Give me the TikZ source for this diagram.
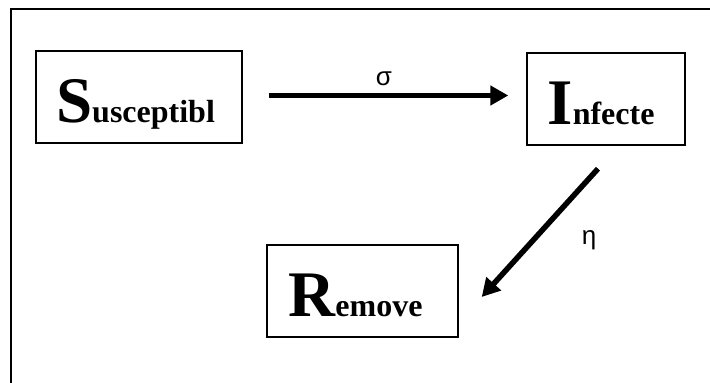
\documentclass[tikz,border=0pt]{standalone}
\usepackage{fontspec}
\setmainfont{Liberation Serif}
\newfontfamily\greekfont{Liberation Sans}
\usetikzlibrary{arrows.meta,calc}
\begin{document}
\begin{tikzpicture}[x=1pt,y=-1pt,
  compbox/.style={draw,line width=1.4pt,inner sep=0pt,minimum width=#1,minimum height=92pt,
    text height=50pt,text depth=0pt,font=\bfseries},
  flow/.style={line width=5.5pt,-{Triangle[length=18pt,width=19pt]}},
  ratelabel/.style={font=\greekfont\fontsize{26}{26}\selectfont,inner sep=0pt}]
\useasboundingbox (0,0) rectangle (710,383);
\fill[white] (0,0) rectangle (710,383);
\draw[line width=1.8pt] (11,420) -- (11,9) -- (730,9);
\node[compbox=206pt] (S) at (139,97) {\fontsize{65}{65}\selectfont S\fontsize{32}{32}\selectfont usceptibl\kern7pt};
\node[compbox=158pt] (I) at (606,99) {\fontsize{65}{65}\selectfont I\fontsize{32}{32}\selectfont nfecte\kern10pt};
\node[compbox=191pt] (R) at (362.5,291) {\fontsize{65}{65}\selectfont R\fontsize{32}{32}\selectfont emove\kern14pt};
\draw[flow] ($(S.east)+(26,-1.5)$) -- ($(I.west)+(-18,-3.5)$);
\draw[flow] ($(I.south)+(-8,23)$) -- ($(R.east)+(23,6)$);
\node[ratelabel] (sigma) at (384,79) {σ};
\node[ratelabel] (eta) at (589,240) {η};
\end{tikzpicture}
\end{document}
